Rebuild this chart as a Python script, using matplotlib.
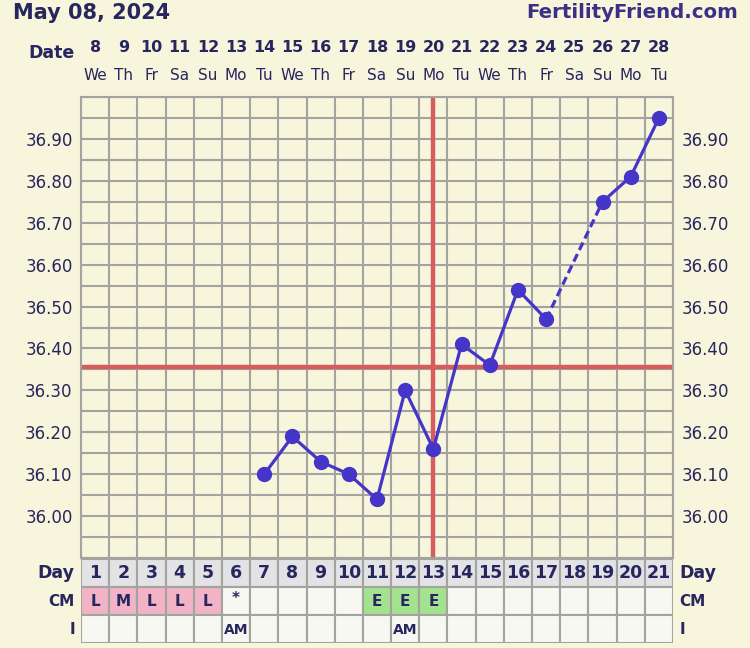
import matplotlib
matplotlib.use("Agg")
import matplotlib.pyplot as plt
import matplotlib.transforms as mtransforms
from matplotlib.patches import Rectangle
import numpy as np

# chart data
title = "May 08, 2024"
site = "FertilityFriend.com"
dates = [8, 9, 10, 11, 12, 13, 14, 15, 16, 17, 18, 19, 20, 21, 22, 23, 24, 25, 26, 27, 28]
weekdays = ["We", "Th", "Fr", "Sa", "Su", "Mo", "Tu", "We", "Th", "Fr", "Sa",
            "Su", "Mo", "Tu", "We", "Th", "Fr", "Sa", "Su", "Mo", "Tu"]
cycle_days = list(range(1, 22))
temps = [None, None, None, None, None, None,
         36.10, 36.19, 36.13, 36.10, 36.04, 36.30, 36.16, 36.41, 36.36, 36.54, 36.47,
         None, 36.75, 36.81, 36.95]
cm = ["L", "M", "L", "L", "L", "*", "", "", "", "", "E", "E", "E",
      "", "", "", "", "", "", "", ""]
intercourse = ["", "", "", "", "", "AM", "", "", "", "", "", "AM",
               "", "", "", "", "", "", "", "", ""]
coverline = 36.355
ovulation_day = 13
ytick_vals = [36.00, 36.10, 36.20, 36.30, 36.40, 36.50, 36.60, 36.70, 36.80, 36.90]

# colours
bg = "#f7f5dc"
grid_c = "#a3a3a0"
navy = "#27265e"
blue = "#4535c8"
red = "#d85c5c"
cm_colors = {"L": "#f2b3c7", "M": "#f2b3c7", "E": "#a3e28f"}

W, H = 750, 648
fig = plt.figure(figsize=(W / 100, H / 100), dpi=100, facecolor=bg)

def fx(px):
    return px / W

def fy(py):
    return 1 - py / H

n = len(dates)
x = np.arange(n)

# main chart
ax = fig.add_axes([fx(81), fy(558), fx(673) - fx(81), fy(97) - fy(558)])
ax.set_facecolor(bg)
ax.set_xlim(-0.5, n - 0.5)
ax.set_ylim(35.90, 37.00)
ax.set_xticks([])
ax.set_xticks(np.arange(-0.5, n, 1), minor=True)
ax.set_yticks(ytick_vals)
ax.set_yticklabels(["%.2f" % v for v in ytick_vals])
ax.set_yticks(np.arange(35.90, 37.001, 0.05), minor=True)
ax.tick_params(which="both", length=0, labelsize=12, labelcolor=navy,
               labelleft=True, labelright=True)
ax.tick_params(axis="y", pad=6)
ax.grid(which="both", color=grid_c, lw=1.5)
ax.set_axisbelow(True)
for s in ax.spines.values():
    s.set_color(grid_c)
    s.set_linewidth(1.5)

ax.axhline(coverline, color=red, lw=3.2, zorder=2)
ax.axvline(cycle_days.index(ovulation_day), color=red, lw=3.2, zorder=2)

t = np.array([np.nan if v is None else v for v in temps])
ax.plot(x, t, color=blue, lw=2.3, marker="o", ms=10, zorder=3)
# dashed line across missing temps
valid = [i for i in range(n) if temps[i] is not None]
for a, b in zip(valid[:-1], valid[1:]):
    if b - a > 1:
        ax.plot([a, b], [temps[a], temps[b]], color=blue, lw=2.3,
                ls=(0, (2.6, 1.4)), zorder=3)

# header
fig.text(fx(13), fy(13), title, fontsize=15, fontweight="bold", color=navy,
         ha="left", va="center")
fig.text(fx(738), fy(13), site, fontsize=14.2, fontweight="bold", color="#3a3085",
         ha="right", va="center")
fig.text(fx(75), fy(53), "Date", fontsize=12.5, fontweight="bold", color=navy,
         ha="right", va="center")
trans = mtransforms.blended_transform_factory(ax.transData, fig.transFigure)
for i in range(n):
    ax.text(x[i], fy(47), str(dates[i]), transform=trans, fontsize=11.5,
            fontweight="bold", color=navy, ha="center", va="center")
    ax.text(x[i], fy(75), weekdays[i], transform=trans, fontsize=11,
            color=navy, ha="center", va="center")

# bottom table
tb = fig.add_axes([fx(81), fy(643), fx(673) - fx(81), fy(559) - fy(643)])
tb.set_xlim(-0.5, n - 0.5)
tb.set_ylim(3, 0)
tb.axis("off")
for i in range(n):
    tb.add_patch(Rectangle((i - 0.5, 0), 1, 1, facecolor="#e3e3e6",
                           edgecolor=grid_c, lw=1.5))
    tb.text(i, 0.5, str(cycle_days[i]), fontsize=12.5, fontweight="bold",
            color=navy, ha="center", va="center")
    tb.add_patch(Rectangle((i - 0.5, 1), 1, 1, facecolor=cm_colors.get(cm[i], "#f8f8f3"),
                           edgecolor=grid_c, lw=1.5))
    if cm[i]:
        tb.text(i, 1.5 if cm[i] != "*" else 1.4, cm[i], fontsize=11, fontweight="bold",
                color=navy, ha="center", va="center")
    tb.add_patch(Rectangle((i - 0.5, 2), 1, 1, facecolor="#f8f8f3",
                           edgecolor=grid_c, lw=1.5))
    if intercourse[i]:
        tb.text(i, 2.55, intercourse[i], fontsize=10, fontweight="bold",
                color=navy, ha="center", va="center")

row_names = ["Day", "CM", "I"]
row_sizes = [12.5, 11, 11]
for r, name in enumerate(row_names):
    tb.text(-0.72, r + 0.5, name, fontsize=row_sizes[r], fontweight="bold",
            color=navy, ha="right", va="center", clip_on=False)
    tb.text(n - 0.5 + 0.22, r + 0.5, name, fontsize=row_sizes[r], fontweight="bold",
            color=navy, ha="left", va="center", clip_on=False)

fig.savefig("out.png", dpi=100, facecolor=bg)
